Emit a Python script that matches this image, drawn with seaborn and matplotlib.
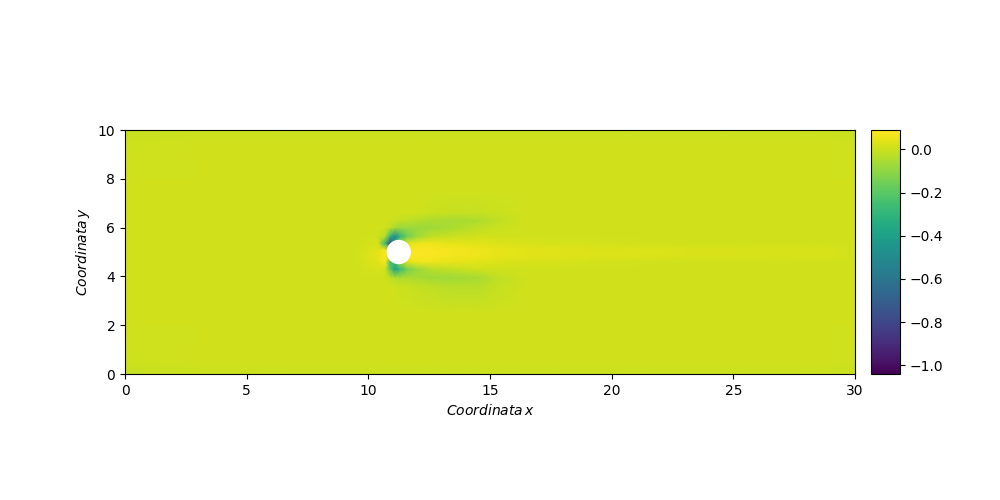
import numpy as np
import seaborn as sns
import matplotlib
matplotlib.use("Agg")
import matplotlib.pyplot as plt
from matplotlib.patches import Circle

# grid nodes (x along channel, y across)
x_nodes = [0, 3, 9.5, 10.4, 10.7, 10.9, 11.1, 11.3, 11.6, 12.0, 12.6, 13.5, 14.5, 15.3, 16.5, 19, 23, 27, 29, 30]
y_nodes = [0, 0.5, 2.5, 3.6, 3.95, 4.3, 4.6, 4.85, 5.1, 5.35, 5.65, 6.0, 6.3, 6.6, 7.5, 9.5, 10]

# field values, one row per y node (bottom -> top)
row_y00 = [-0.01, 0.0, 0.0, 0.0, 0.0, 0.0, 0.0, 0.0, 0.0, 0.0, 0.0, 0.0, 0.0, 0.0, 0.0, 0.0, 0.0, 0.0, 0.0, -0.01]
row_y01 = [0.005, 0.01, 0.01, 0.01, 0.01, 0.01, 0.01, 0.01, 0.01, 0.01, 0.01, 0.01, 0.01, 0.01, 0.01, 0.01, 0.01, 0.01, 0.01, 0.005]
row_y02 = [0.01, 0.01, 0.01, 0.01, 0.01, 0.01, 0.01, 0.01, 0.01, 0.01, 0.01, 0.01, 0.01, 0.01, 0.01, 0.01, 0.01, 0.01, 0.01, 0.01]
row_y03 = [0.01, 0.01, 0.01, 0.01, 0.01, 0.01, 0.01, 0.0, 0.0, -0.01, -0.02, -0.03, -0.03, -0.01, 0.01, 0.01, 0.01, 0.01, 0.01, 0.01]
row_y04 = [0.01, 0.01, 0.01, 0.01, 0.01, -0.01, -0.04, -0.05, -0.05, -0.06, -0.07, -0.07, -0.06, -0.02, 0.01, 0.01, 0.01, 0.01, 0.01, 0.01]
row_y05 = [0.01, 0.01, 0.01, 0.02, 0.01, -0.2, -0.4, -0.28, -0.15, -0.08, -0.03, -0.01, 0.01, 0.01, 0.01, 0.01, 0.01, 0.01, 0.01, 0.01]
row_y06 = [0.01, 0.01, 0.01, 0.04, 0.08, -0.25, -0.25, -0.08, 0.04, 0.06, 0.06, 0.05, 0.04, 0.03, 0.02, 0.015, 0.01, 0.01, 0.01, 0.01]
row_y07 = [0.01, 0.01, 0.01, 0.05, 0.09, 0.06, 0.02, 0.02, 0.08, 0.085, 0.08, 0.07, 0.06, 0.05, 0.04, 0.03, 0.025, 0.02, 0.02, 0.01]
row_y08 = [0.01, 0.01, 0.01, 0.04, 0.07, -0.05, 0.02, 0.02, 0.08, 0.085, 0.08, 0.07, 0.06, 0.05, 0.04, 0.03, 0.025, 0.02, 0.02, 0.01]
row_y09 = [0.01, 0.01, 0.01, 0.02, -0.3, -0.8, -0.4, -0.08, 0.04, 0.06, 0.06, 0.05, 0.04, 0.03, 0.02, 0.015, 0.01, 0.01, 0.01, 0.01]
row_y10 = [0.01, 0.01, 0.01, 0.01, -0.04, -0.3, -0.5, -0.3, -0.16, -0.07, -0.02, 0.0, 0.01, 0.01, 0.01, 0.01, 0.01, 0.01, 0.01, 0.01]
row_y11 = [0.01, 0.01, 0.01, 0.01, 0.01, -0.02, -0.06, -0.08, -0.08, -0.08, -0.07, -0.05, -0.02, 0.0, 0.01, 0.01, 0.01, 0.01, 0.01, 0.01]
row_y12 = [0.01, 0.01, 0.01, 0.01, 0.01, 0.01, 0.0, -0.01, -0.02, -0.03, -0.05, -0.06, -0.05, -0.02, 0.01, 0.01, 0.01, 0.01, 0.01, 0.01]
row_y13 = [0.01, 0.01, 0.01, 0.01, 0.01, 0.01, 0.01, 0.01, 0.01, 0.01, 0.0, -0.01, -0.01, 0.0, 0.01, 0.01, 0.01, 0.01, 0.01, 0.01]
row_y14 = [0.01, 0.01, 0.01, 0.01, 0.01, 0.01, 0.01, 0.01, 0.01, 0.01, 0.01, 0.01, 0.01, 0.01, 0.01, 0.01, 0.01, 0.01, 0.01, 0.01]
row_y15 = [0.005, 0.01, 0.01, 0.01, 0.01, 0.01, 0.01, 0.01, 0.01, 0.01, 0.01, 0.01, 0.01, 0.01, 0.01, 0.01, 0.01, 0.01, 0.01, 0.005]
row_y16 = [-0.01, 0.0, 0.0, 0.0, 0.0, 0.0, 0.0, 0.0, 0.0, 0.0, 0.0, 0.0, 0.0, 0.0, 0.0, 0.0, 0.0, 0.0, 0.0, -0.01]

field_rows = [row_y00, row_y01, row_y02, row_y03, row_y04, row_y05, row_y06, row_y07, row_y08,
              row_y09, row_y10, row_y11, row_y12, row_y13, row_y14, row_y15, row_y16]

# obstacle (cylinder)
cyl_center = (11.25, 5.0)
cyl_radius = 0.5

cbar_min, cbar_max = -1.04, 0.09
cbar_ticks = [0.0, -0.2, -0.4, -0.6, -0.8, -1.0]

sns.set_style("ticks", {"axes.edgecolor": "black", "text.color": "black",
                        "xtick.color": "black", "ytick.color": "black",
                        "axes.labelcolor": "black"})
plt.rcParams['font.family'] = ['DejaVu Sans']
plt.rcParams['font.size'] = 10

cmap = sns.color_palette("viridis", as_cmap=True)

fig = plt.figure(figsize=(10, 5), dpi=100)
ax = fig.add_axes([0.125, 0.252, 0.73, 0.488])
cax = fig.add_axes([0.871, 0.252, 0.029, 0.488])

vals = np.array(field_rows)
mesh = ax.pcolormesh(x_nodes, y_nodes, vals, shading='gouraud', cmap=cmap,
                     vmin=cbar_min, vmax=cbar_max)
ax.add_patch(Circle(cyl_center, cyl_radius, facecolor='white', edgecolor='none', zorder=3))

ax.set_xlim(0, 30)
ax.set_ylim(0, 10)
ax.set_xticks([0, 5, 10, 15, 20, 25, 30])
ax.set_yticks([0, 2, 4, 6, 8, 10])
ax.set_xlabel(r'$Coordinata\,x$')
ax.set_ylabel(r'$Coordinata\,y$')

cb = fig.colorbar(mesh, cax=cax)
cb.set_ticks(cbar_ticks)

fig.savefig("out.png", dpi=100)
